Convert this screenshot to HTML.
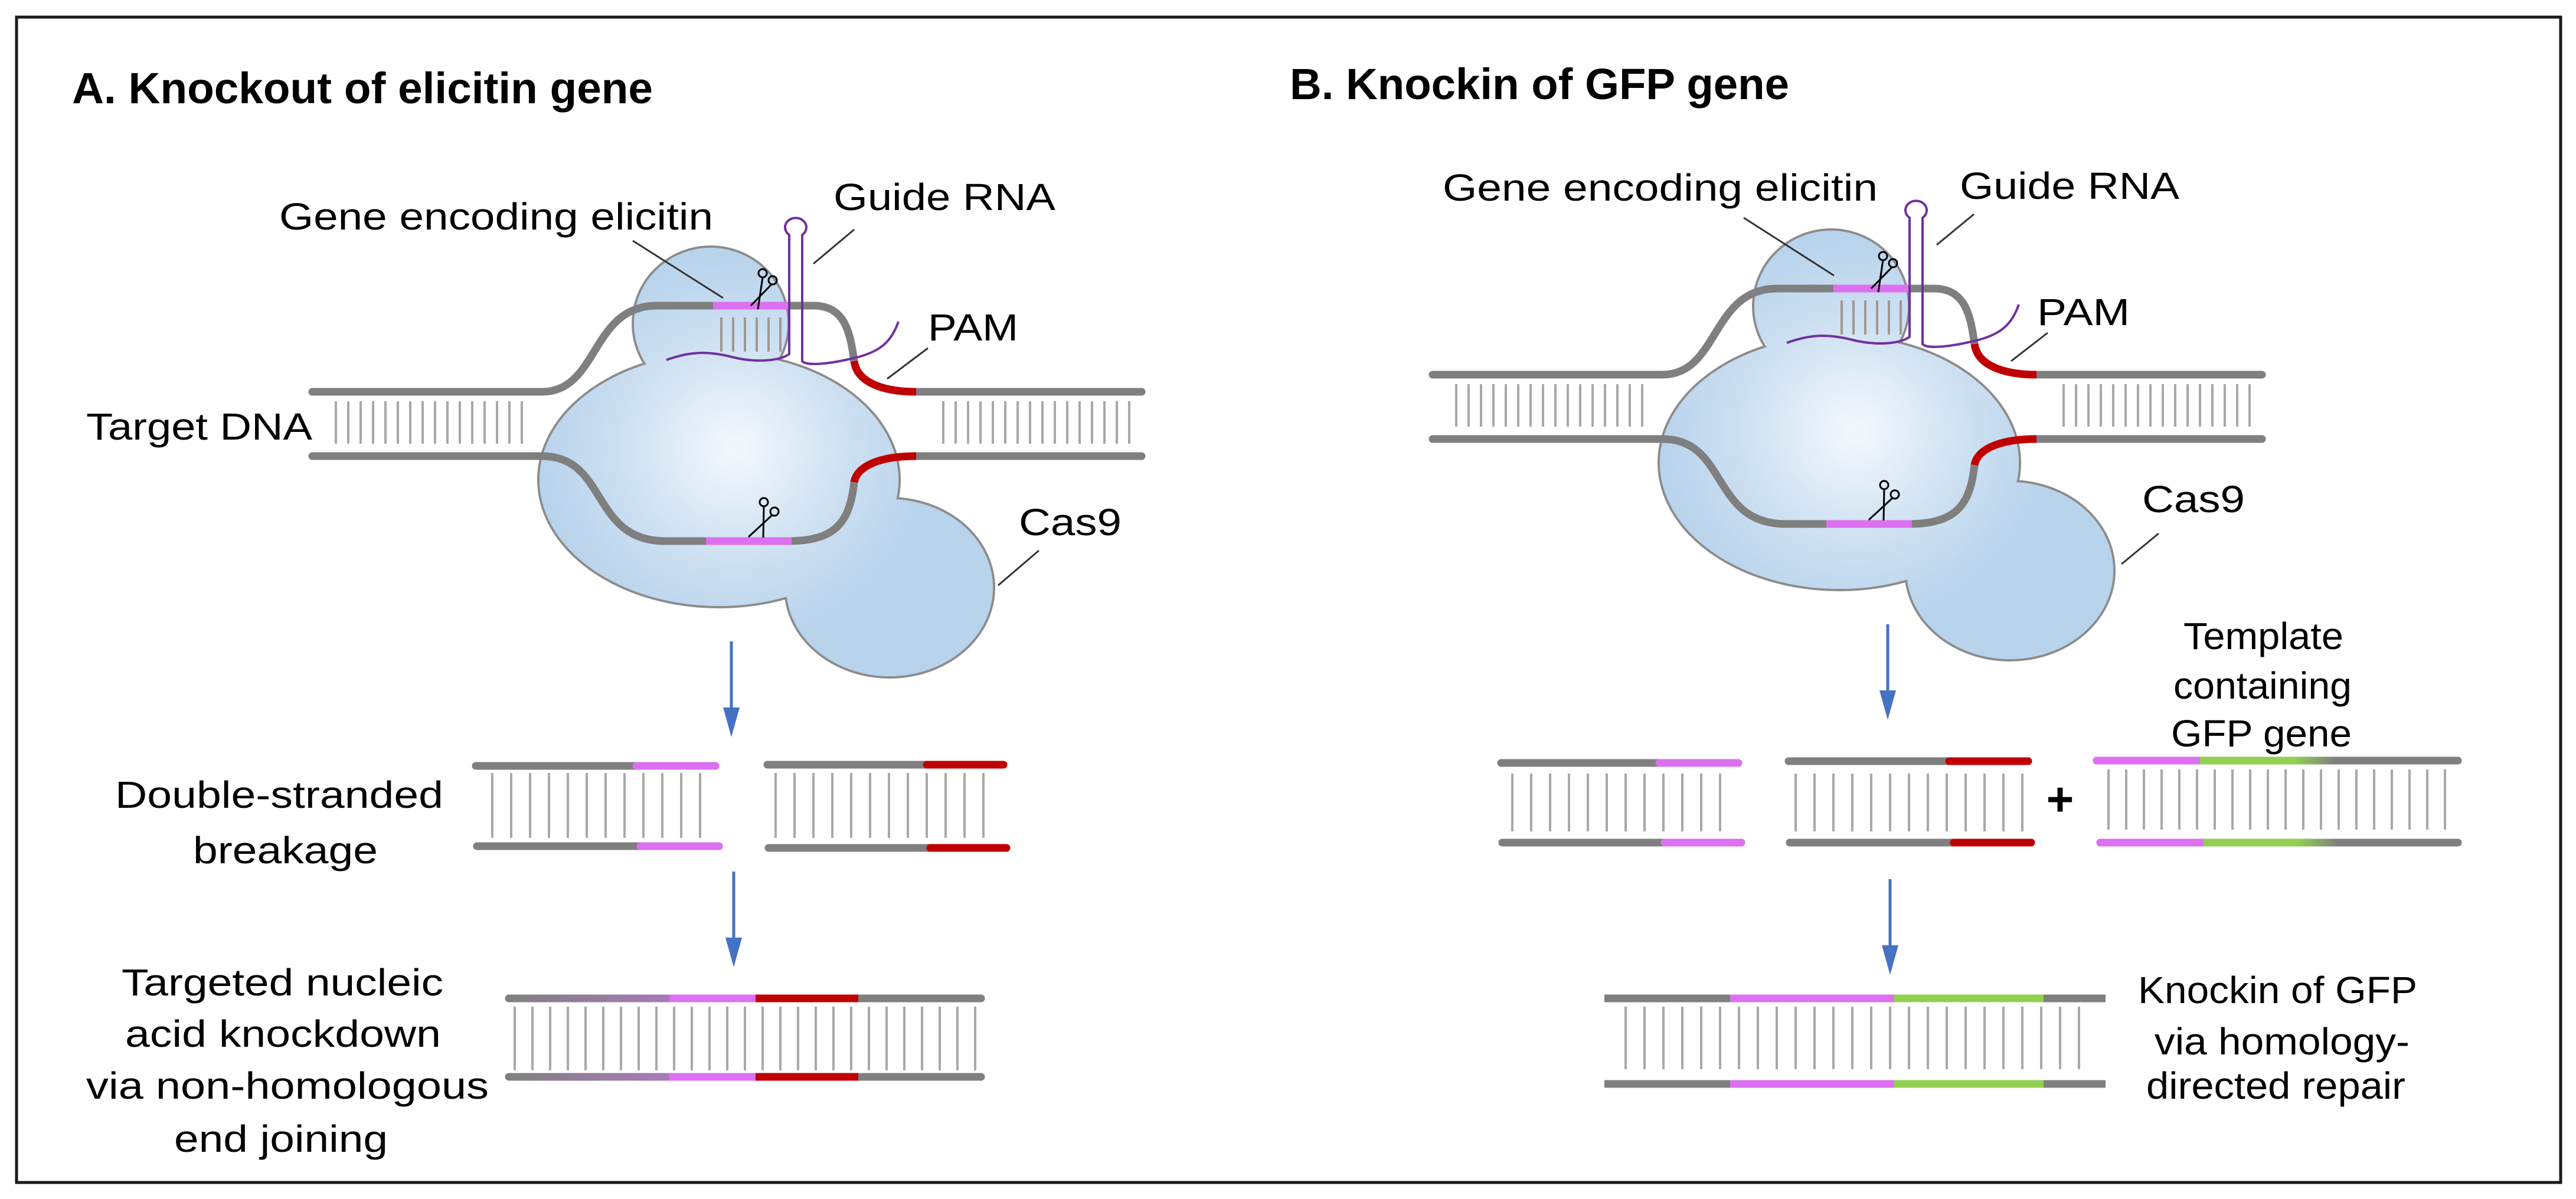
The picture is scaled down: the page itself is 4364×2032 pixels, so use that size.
<!DOCTYPE html>
<html><head><meta charset="utf-8"><style>
html,body{margin:0;padding:0;background:#fff;}
svg{display:block;}
text{font-family:"Liberation Sans",Arial,sans-serif;fill:#000;}
</style></head><body>
<svg width="4364" height="2032" viewBox="0 0 4364 2032" xmlns="http://www.w3.org/2000/svg">
<defs>
<radialGradient id="bg" gradientUnits="userSpaceOnUse" cx="1245" cy="760" r="330">
<stop offset="0" stop-color="#f4f8fd"/><stop offset="0.55" stop-color="#cfe1f2"/><stop offset="1" stop-color="#b8d3ec"/>
</radialGradient>
<pattern id="t21" width="21" height="10" patternUnits="userSpaceOnUse"><rect x="0" y="0" width="4" height="10" fill="#a8a8a8"/></pattern>
<pattern id="t20" width="20" height="10" patternUnits="userSpaceOnUse"><rect x="0" y="0" width="4" height="10" fill="#a09890"/></pattern>
<pattern id="t32" width="32" height="10" patternUnits="userSpaceOnUse"><rect x="0" y="0" width="4" height="10" fill="#a8a8a8"/></pattern>
<pattern id="t30" width="30" height="10" patternUnits="userSpaceOnUse"><rect x="0" y="0" width="4" height="10" fill="#a8a8a8"/></pattern>
<linearGradient id="pg" gradientUnits="userSpaceOnUse" x1="868" y1="0" x2="1134" y2="0"><stop offset="0" stop-color="#808080"/><stop offset="1" stop-color="#a87ab8"/></linearGradient>
<linearGradient id="gg1" gradientUnits="userSpaceOnUse" x1="3727" y1="0" x2="3955" y2="0"><stop offset="0" stop-color="#92d050"/><stop offset="0.7" stop-color="#92d050"/><stop offset="1" stop-color="#808080"/></linearGradient>
<linearGradient id="gg2" gradientUnits="userSpaceOnUse" x1="3733" y1="0" x2="3960" y2="0"><stop offset="0" stop-color="#92d050"/><stop offset="0.7" stop-color="#92d050"/><stop offset="1" stop-color="#808080"/></linearGradient>
<g id="cx">
 <g fill="none" stroke="#8c8c8c" stroke-width="4">
  <ellipse cx="1204" cy="548" rx="132" ry="130"/>
  <ellipse cx="1218" cy="813" rx="306" ry="216"/>
  <ellipse cx="1507" cy="996" rx="177" ry="152"/>
 </g>
 <g fill="url(#bg)">
  <ellipse cx="1204" cy="548" rx="130" ry="128"/>
  <ellipse cx="1218" cy="813" rx="304" ry="214"/>
  <ellipse cx="1507" cy="996" rx="175" ry="150"/>
 </g>
 <rect x="550" y="680" width="336" height="72" fill="url(#t21)"/>
 <rect x="1586" y="680" width="345" height="72" fill="url(#t21)"/>
 <rect x="1208" y="538" width="124" height="58" fill="url(#t20)"/>
 <g fill="none" stroke="#7f7f7f" stroke-width="13" stroke-linecap="round">
  <path d="M529,664 H918 C1015,664 1000,518 1113,518 H1378 C1430,518 1440,560 1447,612"/>
  <path d="M1552,664 H1934"/>
  <path d="M529,773 H918 C1030,773 1000,917 1127,917 H1336 C1420,917 1440,880 1447,817"/>
  <path d="M1552,773 H1934"/>
 </g>
 <g fill="none" stroke-width="13">
  <path d="M1447,612 C1452,650 1500,664 1552,664" stroke="#c00000"/>
  <path d="M1447,817 C1452,790 1490,773 1552,773" stroke="#c00000"/>
  <path d="M1208,518 H1335" stroke="#dd70f0"/>
  <path d="M1196,917 H1341" stroke="#dd70f0"/>
 </g>
 <path d="M1129,610 C1170,595 1200,595 1240,605 S1320,612 1337,600 V398 A18,16 0 1 1 1359,398 V612 C1365,620 1400,618 1446,607 C1490,597 1510,580 1522,545" fill="none" stroke="#7030a0" stroke-width="4"/>
 <g fill="none" stroke="#000" stroke-width="3">
  <circle cx="1292" cy="463" r="7"/><circle cx="1309" cy="475" r="7"/>
  <path d="M1292,470 L1284,524 M1307,482 L1272,518"/>
  <circle cx="1294" cy="851" r="7"/><circle cx="1312" cy="867" r="7"/>
  <path d="M1294,858 L1293,911 M1308,873 L1268,910"/>
 </g>
</g>
<g id="arrow"><line x1="0" y1="0" x2="0" y2="120" stroke="#4472c4" stroke-width="5"/><path d="M-14,112 L14,112 L0,162 Z" fill="#4472c4"/></g>
</defs>

<rect x="28" y="29" width="4310" height="1975" fill="none" stroke="#1a1a1a" stroke-width="5"/>

<text x="122" y="175" font-size="74" font-weight="bold" textLength="984" lengthAdjust="spacingAndGlyphs">A. Knockout of elicitin gene</text>
<use href="#cx"/>
<g stroke="#333" stroke-width="3">
 <line x1="1072" y1="408" x2="1225" y2="505"/>
 <line x1="1447" y1="389" x2="1378" y2="447"/>
 <line x1="1572" y1="590" x2="1503" y2="642"/>
 <line x1="1760" y1="933" x2="1691" y2="992"/>
</g>
<g font-size="64">
<text x="473" y="389" textLength="735" lengthAdjust="spacingAndGlyphs">Gene encoding elicitin</text>
<text x="1412" y="356" textLength="376" lengthAdjust="spacingAndGlyphs">Guide RNA</text>
<text x="1572" y="577" textLength="153" lengthAdjust="spacingAndGlyphs">PAM</text>
<text x="146" y="745" textLength="383" lengthAdjust="spacingAndGlyphs">Target DNA</text>
<text x="1726" y="907" textLength="174" lengthAdjust="spacingAndGlyphs">Cas9</text>
<text x="195" y="1369" textLength="556" lengthAdjust="spacingAndGlyphs">Double-stranded</text>
<text x="327" y="1463" textLength="313" lengthAdjust="spacingAndGlyphs">breakage</text>
<text x="206" y="1687" textLength="545" lengthAdjust="spacingAndGlyphs">Targeted nucleic</text>
<text x="212" y="1774" textLength="535" lengthAdjust="spacingAndGlyphs">acid knockdown</text>
<text x="146" y="1862" textLength="682" lengthAdjust="spacingAndGlyphs">via non-homologous</text>
<text x="295" y="1952" textLength="362" lengthAdjust="spacingAndGlyphs">end joining</text>
</g>
<use href="#arrow" x="1239" y="1087"/>
<use href="#arrow" x="1243" y="1477"/>
<rect x="814" y="1310" width="390" height="110" fill="url(#t32)"/>
<rect x="1304" y="1310" width="390" height="110" fill="url(#t32)"/>
<g stroke-width="13" stroke-linecap="round">
 <line x1="806" y1="1298" x2="1212" y2="1298" stroke="#7f7f7f"/>
 <line x1="1078" y1="1298" x2="1212" y2="1298" stroke="#dd70f0"/>
 <line x1="808" y1="1434" x2="1218" y2="1434" stroke="#7f7f7f"/>
 <line x1="1085" y1="1434" x2="1218" y2="1434" stroke="#dd70f0"/>
 <line x1="1300" y1="1296" x2="1700" y2="1296" stroke="#7f7f7f"/>
 <line x1="1570" y1="1296" x2="1700" y2="1296" stroke="#c00000"/>
 <line x1="1302" y1="1437" x2="1705" y2="1437" stroke="#7f7f7f"/>
 <line x1="1576" y1="1437" x2="1705" y2="1437" stroke="#c00000"/>
</g>
<rect x="858" y="1706" width="800" height="108" fill="url(#t30)"/>
<g stroke-width="13" stroke-linecap="round">
 <line x1="862" y1="1692" x2="1662" y2="1692" stroke="#7f7f7f"/>
 <line x1="862" y1="1825" x2="1662" y2="1825" stroke="#7f7f7f"/>
</g>
<g stroke-width="13">
 <line x1="868" y1="1692" x2="1134" y2="1692" stroke="url(#pg)"/>
 <line x1="1134" y1="1692" x2="1280" y2="1692" stroke="#dd70f0"/>
 <line x1="1280" y1="1692" x2="1454" y2="1692" stroke="#c00000"/>
 <line x1="868" y1="1825" x2="1134" y2="1825" stroke="url(#pg)"/>
 <line x1="1134" y1="1825" x2="1280" y2="1825" stroke="#dd70f0"/>
 <line x1="1280" y1="1825" x2="1454" y2="1825" stroke="#c00000"/>
</g>

<text x="2185" y="168" font-size="74" font-weight="bold" textLength="846" lengthAdjust="spacingAndGlyphs">B. Knockin of GFP gene</text>
<use href="#cx" transform="translate(1898,-29)"/>
<g stroke="#333" stroke-width="3">
 <line x1="2954" y1="369" x2="3107" y2="467"/>
 <line x1="3344" y1="363" x2="3281" y2="415"/>
 <line x1="3469" y1="564" x2="3407" y2="612"/>
 <line x1="3657" y1="904" x2="3594" y2="956"/>
</g>
<g font-size="64">
<text x="2444" y="340" textLength="737" lengthAdjust="spacingAndGlyphs">Gene encoding elicitin</text>
<text x="3320" y="337" textLength="372" lengthAdjust="spacingAndGlyphs">Guide RNA</text>
<text x="3451" y="551" textLength="157" lengthAdjust="spacingAndGlyphs">PAM</text>
<text x="3629" y="868" textLength="174" lengthAdjust="spacingAndGlyphs">Cas9</text>
<text x="3699" y="1100" textLength="271" lengthAdjust="spacingAndGlyphs">Template</text>
<text x="3682" y="1184" textLength="302" lengthAdjust="spacingAndGlyphs">containing</text>
<text x="3678" y="1265" textLength="306" lengthAdjust="spacingAndGlyphs">GFP gene</text>
<text x="3622" y="1700" textLength="473" lengthAdjust="spacingAndGlyphs">Knockin of GFP</text>
<text x="3650" y="1787" textLength="432" lengthAdjust="spacingAndGlyphs">via homology-</text>
<text x="3636" y="1862" textLength="439" lengthAdjust="spacingAndGlyphs">directed repair</text>
</g>
<text x="3490" y="1382" font-size="80" font-weight="bold" text-anchor="middle">+</text>
<use href="#arrow" x="3198" y="1058"/>
<use href="#arrow" x="3202" y="1490"/>
<rect x="2551" y="1311" width="390" height="98" fill="url(#t32)"/>
<rect x="3040" y="1311" width="390" height="98" fill="url(#t32)"/>
<rect x="3553" y="1304" width="610" height="102" fill="url(#t30)"/>
<g stroke-width="13" stroke-linecap="round">
 <line x1="2543" y1="1293" x2="2945" y2="1293" stroke="#7f7f7f"/>
 <line x1="2811" y1="1293" x2="2945" y2="1293" stroke="#dd70f0"/>
 <line x1="2545" y1="1428" x2="2950" y2="1428" stroke="#7f7f7f"/>
 <line x1="2820" y1="1428" x2="2950" y2="1428" stroke="#dd70f0"/>
 <line x1="3030" y1="1290" x2="3436" y2="1290" stroke="#7f7f7f"/>
 <line x1="3302" y1="1290" x2="3436" y2="1290" stroke="#c00000"/>
 <line x1="3032" y1="1428" x2="3441" y2="1428" stroke="#7f7f7f"/>
 <line x1="3310" y1="1428" x2="3441" y2="1428" stroke="#c00000"/>
 <line x1="3552" y1="1289" x2="4164" y2="1289" stroke="#7f7f7f"/>
 <line x1="3558" y1="1428" x2="4164" y2="1428" stroke="#7f7f7f"/>
 <line x1="3552" y1="1289" x2="3727" y2="1289" stroke="#dd70f0"/>
 <line x1="3558" y1="1428" x2="3733" y2="1428" stroke="#dd70f0"/>
</g>
<g stroke-width="13">
 <line x1="3727" y1="1289" x2="3955" y2="1289" stroke="url(#gg1)"/>
 <line x1="3733" y1="1428" x2="3960" y2="1428" stroke="url(#gg2)"/>
</g>
<rect x="2750" y="1706" width="800" height="106" fill="url(#t32)"/>
<g stroke-width="13">
 <line x1="2718" y1="1692" x2="3567" y2="1692" stroke="#7f7f7f"/>
 <line x1="2931" y1="1692" x2="3209" y2="1692" stroke="#dd70f0"/>
 <line x1="3209" y1="1692" x2="3462" y2="1692" stroke="#92d050"/>
 <line x1="2718" y1="1837" x2="3567" y2="1837" stroke="#7f7f7f"/>
 <line x1="2931" y1="1837" x2="3209" y2="1837" stroke="#dd70f0"/>
 <line x1="3209" y1="1837" x2="3462" y2="1837" stroke="#92d050"/>
</g>
</svg>
</body></html>
